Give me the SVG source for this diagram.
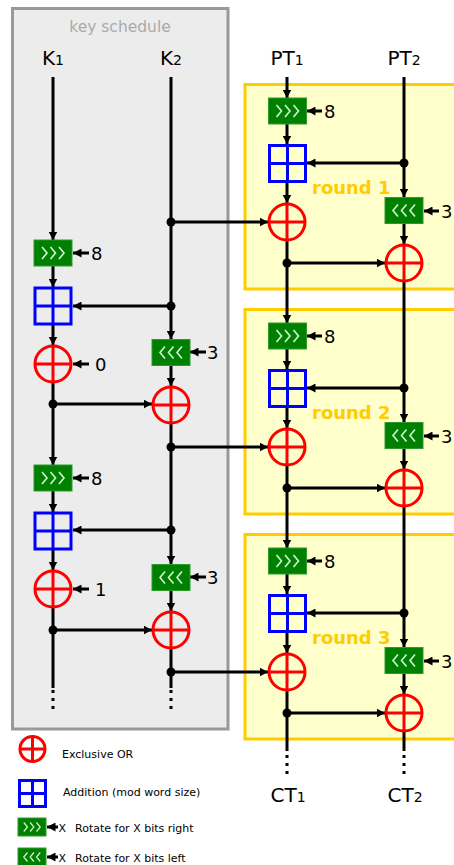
<svg xmlns="http://www.w3.org/2000/svg" xmlns:xlink="http://www.w3.org/1999/xlink" width="454" height="865" viewBox="0 0 454 865">
  <style>
    .ln { stroke:#000; stroke-width:3; fill:none; }
    .ar { marker-end:url(#ah); }
    .dash { stroke-dasharray:3,5; }
    .dot { fill:#000; }
    .xor { stroke:#ff0000; stroke-width:3; fill:none; }
    .add { stroke:#0000ff; stroke-width:3; fill:none; }
    .rot { fill:#008000; stroke:#2e9a2e; stroke-width:1; }
    .chev { stroke:#d4f5d4; stroke-width:1.6; fill:none; stroke-linejoin:miter; }
    .lbl { font-family:"DejaVu Sans","Liberation Sans",sans-serif; font-size:20px; fill:#000; }
    .sub { font-size:14px; }
    .num { font-family:"DejaVu Sans","Liberation Sans",sans-serif; font-size:18px; fill:#000; }
    .rnd { font-family:"DejaVu Sans","Liberation Sans",sans-serif; font-size:18px; font-weight:bold; fill:#ffcc00; }
    .leg { font-family:"DejaVu Sans","Liberation Sans",sans-serif; font-size:11px; fill:#000; }
    .frame { fill:#ffffcc; stroke:#ffcc00; stroke-width:3; }
  </style>
  <defs>
    <marker id="ah" markerUnits="userSpaceOnUse" markerWidth="9" markerHeight="9" refX="8.5" refY="4.5" orient="auto">
      <path d="M0,0 L8.5,4.5 L0,9 z" fill="#000"/>
    </marker>
    <g id="xor">
      <circle r="18" class="xor"/>
      <path d="M-18,0 H18 M0,-18 V18" class="xor"/>
    </g>
    <g id="add">
      <rect x="-18" y="-18" width="36" height="36" class="add"/>
      <path d="M-18,0 H18 M0,-18 V18" class="add"/>
    </g>
    <g id="chevR">
      <path d="M-11,-6 L-6,0 L-11,6 M-2.5,-6 L2.5,0 L-2.5,6 M6,-6 L11,0 L6,6" class="chev"/>
    </g>
    <g id="chevL">
      <path d="M-6,-6 L-11,0 L-6,6 M2.5,-6 L-2.5,0 L2.5,6 M11,-6 L6,0 L11,6" class="chev"/>
    </g>
    <g id="rotR">
      <rect x="-19" y="-13" width="38" height="26" class="rot"/>
      <use xlink:href="#chevR"/>
    </g>
    <g id="rotL">
      <rect x="-19" y="-13" width="38" height="26" class="rot"/>
      <use xlink:href="#chevL"/>
    </g>
  </defs>

  <!-- key schedule panel -->
  <g id="keySchedule">
    <rect x="12.5" y="8.5" width="215.5" height="720.5" fill="#ececec" stroke="#999999" stroke-width="3"/>
    <text x="120" y="32" text-anchor="middle" font-family="DejaVu Sans, Liberation Sans, sans-serif" font-size="15.5" fill="#aaaaaa">key schedule</text>
  </g>

  <!-- round frames -->
  <g id="round1"><rect x="245" y="84.5" width="240" height="204.5" class="frame"/><text x="312" y="194" class="rnd">round 1</text></g>
  <g id="round2"><rect x="245" y="309.5" width="240" height="204.5" class="frame"/><text x="312" y="419" class="rnd">round 2</text></g>
  <g id="round3"><rect x="245" y="534.5" width="240" height="204.5" class="frame"/><text x="312" y="644" class="rnd">round 3</text></g>

  <!-- input / output labels -->
  <g id="labels">
    <text x="53" y="65" text-anchor="middle" class="lbl">K<tspan class="sub">1</tspan></text>
    <text x="171" y="65" text-anchor="middle" class="lbl">K<tspan class="sub">2</tspan></text>
    <text x="287" y="65" text-anchor="middle" class="lbl">PT<tspan class="sub">1</tspan></text>
    <text x="404" y="65" text-anchor="middle" class="lbl">PT<tspan class="sub">2</tspan></text>
    <text x="288" y="802" text-anchor="middle" class="lbl">CT<tspan class="sub">1</tspan></text>
    <text x="405" y="802" text-anchor="middle" class="lbl">CT<tspan class="sub">2</tspan></text>
  </g>

  <!-- connectors -->
  <g id="connectors">
    <!-- K1 word -->
    <path d="M53,77 V240" class="ln ar"/>
    <path d="M53,266 V287" class="ln ar"/>
    <path d="M53,325 V345" class="ln ar"/>
    <path d="M53,383 V465" class="ln ar"/>
    <path d="M53,491 V512" class="ln ar"/>
    <path d="M53,550 V570" class="ln ar"/>
    <path d="M53,608 V688" class="ln"/>
    <path d="M53,690 V711" class="ln dash"/>
    <!-- K2 word -->
    <path d="M171,77 V339" class="ln ar"/>
    <path d="M171,366 V386" class="ln ar"/>
    <path d="M171,424 V564" class="ln ar"/>
    <path d="M171,591 V611" class="ln ar"/>
    <path d="M171,649 V688" class="ln"/>
    <path d="M171,690 V711" class="ln dash"/>
    <!-- key schedule cross links -->
    <path d="M171,306 H73" class="ln ar"/>
    <path d="M53,404 H152" class="ln ar"/>
    <path d="M171,530 H73" class="ln ar"/>
    <path d="M53,630 H152" class="ln ar"/>
    <!-- round keys -->
    <path d="M171,222 H268" class="ln ar"/>
    <path d="M171,447 H268" class="ln ar"/>
    <path d="M171,672 H268" class="ln ar"/>
    <!-- key schedule constants -->
    <path d="M89,253 H73" class="ln ar"/>
    <path d="M89,364 H73" class="ln ar"/>
    <path d="M206,352 H190" class="ln ar"/>
    <path d="M89,478 H73" class="ln ar"/>
    <path d="M89,589 H73" class="ln ar"/>
    <path d="M206,577 H190" class="ln ar"/>

    <!-- PT1 word -->
    <path d="M287,77 V98" class="ln ar"/>
    <path d="M287,241 V323" class="ln ar"/>
    <path d="M287,466 V548" class="ln ar"/>
    <path d="M287,691 V751" class="ln"/>
    <path d="M287,755 V776" class="ln dash"/>
    <path d="M287,124 V144" class="ln ar"/>
    <path d="M287,183 V203" class="ln ar"/>
    <path d="M287,349 V369" class="ln ar"/>
    <path d="M287,408 V428" class="ln ar"/>
    <path d="M287,574 V594" class="ln ar"/>
    <path d="M287,633 V653" class="ln ar"/>
    <!-- PT2 word -->
    <path d="M404,77 V197" class="ln ar"/>
    <path d="M404,282 V422" class="ln ar"/>
    <path d="M404,507 V647" class="ln ar"/>
    <path d="M404,732 V751" class="ln"/>
    <path d="M404,755 V776" class="ln dash"/>
    <path d="M404,224 V244" class="ln ar"/>
    <path d="M404,449 V469" class="ln ar"/>
    <path d="M404,674 V694" class="ln ar"/>
    <!-- round cross links -->
    <path d="M404,163 H307" class="ln ar"/>
    <path d="M287,263 H385" class="ln ar"/>
    <path d="M404,388 H307" class="ln ar"/>
    <path d="M287,488 H385" class="ln ar"/>
    <path d="M404,613 H307" class="ln ar"/>
    <path d="M287,713 H385" class="ln ar"/>
    <!-- round rotation amounts -->
    <path d="M322,111 H307" class="ln ar"/>
    <path d="M439,211 H424" class="ln ar"/>
    <path d="M322,336 H307" class="ln ar"/>
    <path d="M439,436 H424" class="ln ar"/>
    <path d="M322,561 H307" class="ln ar"/>
    <path d="M439,661 H424" class="ln ar"/>

    <!-- junctions -->
    <circle cx="171" cy="222" r="4.5" class="dot"/>
    <circle cx="171" cy="306" r="4.5" class="dot"/>
    <circle cx="53" cy="404" r="4.5" class="dot"/>
    <circle cx="171" cy="447" r="4.5" class="dot"/>
    <circle cx="171" cy="530" r="4.5" class="dot"/>
    <circle cx="53" cy="630" r="4.5" class="dot"/>
    <circle cx="171" cy="672" r="4.5" class="dot"/>
    <circle cx="404" cy="163" r="4.5" class="dot"/>
    <circle cx="287" cy="263" r="4.5" class="dot"/>
    <circle cx="404" cy="388" r="4.5" class="dot"/>
    <circle cx="287" cy="488" r="4.5" class="dot"/>
    <circle cx="404" cy="613" r="4.5" class="dot"/>
    <circle cx="287" cy="713" r="4.5" class="dot"/>
  </g>

  <!-- constants -->
  <g id="constants">
    <text x="91" y="260" class="num">8</text>
    <text x="95" y="371" class="num">0</text>
    <text x="207" y="359" class="num">3</text>
    <text x="91" y="485" class="num">8</text>
    <text x="95" y="596" class="num">1</text>
    <text x="207" y="584" class="num">3</text>
    <text x="324" y="118" class="num">8</text>
    <text x="441" y="218" class="num">3</text>
    <text x="324" y="343" class="num">8</text>
    <text x="441" y="443" class="num">3</text>
    <text x="324" y="568" class="num">8</text>
    <text x="441" y="668" class="num">3</text>
  </g>

  <!-- key schedule operations -->
  <g id="ks1_rot"><use xlink:href="#rotR" x="53" y="253"/></g>
  <g id="ks1_add"><use xlink:href="#add" x="53" y="306"/></g>
  <g id="ks1_xor"><use xlink:href="#xor" x="53" y="364"/></g>
  <g id="ks1_rotL"><use xlink:href="#rotL" x="171" y="352.5"/></g>
  <g id="ks1_xor2"><use xlink:href="#xor" x="171" y="405"/></g>
  <g id="ks2_rot"><use xlink:href="#rotR" x="53" y="478"/></g>
  <g id="ks2_add"><use xlink:href="#add" x="53" y="531"/></g>
  <g id="ks2_xor"><use xlink:href="#xor" x="53" y="589"/></g>
  <g id="ks2_rotL"><use xlink:href="#rotL" x="171" y="577.5"/></g>
  <g id="ks2_xor2"><use xlink:href="#xor" x="171" y="630"/></g>

  <!-- round operations -->
  <g id="r1_rot"><use xlink:href="#rotR" x="287.5" y="111"/></g>
  <g id="r1_add"><use xlink:href="#add" x="287.5" y="163.5"/></g>
  <g id="r1_xor"><use xlink:href="#xor" x="287" y="222"/></g>
  <g id="r1_rotL"><use xlink:href="#rotL" x="404" y="210.5"/></g>
  <g id="r1_xor2"><use xlink:href="#xor" x="404" y="263"/></g>
  <g id="r2_rot"><use xlink:href="#rotR" x="287.5" y="336"/></g>
  <g id="r2_add"><use xlink:href="#add" x="287.5" y="388.5"/></g>
  <g id="r2_xor"><use xlink:href="#xor" x="287" y="447"/></g>
  <g id="r2_rotL"><use xlink:href="#rotL" x="404" y="435.5"/></g>
  <g id="r2_xor2"><use xlink:href="#xor" x="404" y="488"/></g>
  <g id="r3_rot"><use xlink:href="#rotR" x="287.5" y="561"/></g>
  <g id="r3_add"><use xlink:href="#add" x="287.5" y="613.5"/></g>
  <g id="r3_xor"><use xlink:href="#xor" x="287" y="672"/></g>
  <g id="r3_rotL"><use xlink:href="#rotL" x="404" y="660.5"/></g>
  <g id="r3_xor2"><use xlink:href="#xor" x="404" y="713"/></g>

  <!-- legend -->
  <g id="legend_xor">
    <circle cx="32.5" cy="749" r="12.5" class="xor"/>
    <path d="M20,749 H45 M32.5,736.5 V761.5" class="xor"/>
    <text x="62" y="758" class="leg">Exclusive OR</text>
  </g>
  <g id="legend_add">
    <rect x="19.5" y="780.5" width="26" height="26" class="add"/>
    <path d="M19.5,793.5 H45.5 M32.5,780.5 V806.5" class="add"/>
    <text x="63" y="796" class="leg">Addition (mod word size)</text>
  </g>
  <g id="legend_rotR">
    <rect x="18" y="818" width="28" height="18" class="rot"/>
    <use xlink:href="#chevR" transform="translate(32,827) scale(0.75)"/>
    <path d="M58,827 H47" class="ln ar"/>
    <text x="58.5" y="832" class="leg" font-size="12">X</text>
    <text x="75" y="832" class="leg">Rotate for X bits right</text>
  </g>
  <g id="legend_rotL">
    <rect x="18" y="848" width="28" height="18" class="rot"/>
    <use xlink:href="#chevL" transform="translate(32,857) scale(0.75)"/>
    <path d="M58,857 H47" class="ln ar"/>
    <text x="58.5" y="862" class="leg" font-size="12">X</text>
    <text x="75" y="862" class="leg">Rotate for X bits left</text>
  </g>
</svg>
